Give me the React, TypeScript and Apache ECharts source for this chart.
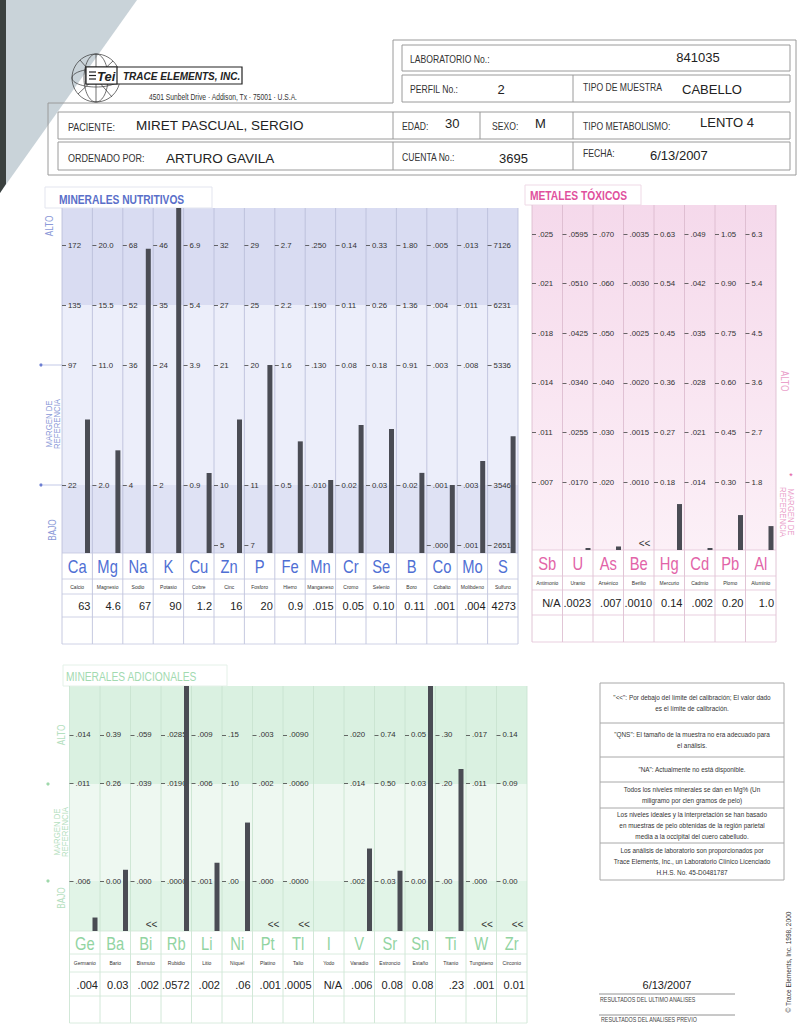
import React, { useEffect, useRef } from "react";
import * as echarts from "echarts";

const SANS = "'Liberation Sans',Arial,Helvetica,sans-serif";
const NARROW_SCALE = 0.82;

// ---------------- MINERALES NUTRITIVOS ----------------
const NUT_SYMBOLS = ["Ca", "Mg", "Na", "K", "Cu", "Zn", "P", "Fe", "Mn", "Cr", "Se", "B", "Co", "Mo", "S"];
const NUT_NAMES = ["Calcio", "Magnesio", "Sodio", "Potasio", "Cobre", "Cinc", "Fosforo", "Hierro", "Manganeso", "Cromo", "Selenio", "Boro", "Cobalto", "Molibdeno", "Sulfuro"];
const NUT_VALUES = [63, 4.6, 67, 90, 1.2, 16, 20, 0.9, 0.015, 0.05, 0.1, 0.11, 0.001, 0.004, 4273];
const NUT_VALUE_LABELS = ["63", "4.6", "67", "90", "1.2", "16", "20", "0.9", ".015", "0.05", "0.10", "0.11", ".001", ".004", "4273"];
const NUT_BELOW = [false, false, false, false, false, false, false, false, false, false, false, false, false, false, false];
const NUT_LOW = [22, 2.0, 4, 2, 0.9, 10, 11, 0.5, 0.01, 0.02, 0.03, 0.02, 0.001, 0.003, 3546];
const NUT_HIGH = [172, 20.0, 68, 46, 6.9, 32, 29, 2.7, 0.25, 0.14, 0.33, 1.8, 0.005, 0.013, 7126];
const NUT_TICK_LEVELS = [-1, 0, 2, 3, 4];
const NUT_TICK_LABELS = [
  ["", "22", "97", "135", "172"],
  ["", "2.0", "11.0", "15.5", "20.0"],
  ["", "4", "36", "52", "68"],
  ["", "2", "24", "35", "46"],
  ["", "0.9", "3.9", "5.4", "6.9"],
  ["5", "10", "21", "27", "32"],
  ["7", "11", "20", "25", "29"],
  ["", "0.5", "1.6", "2.2", "2.7"],
  ["", ".010", ".130", ".190", ".250"],
  ["", "0.02", "0.08", "0.11", "0.14"],
  ["", "0.03", "0.18", "0.26", "0.33"],
  ["", "0.02", "0.91", "1.36", "1.80"],
  [".000", ".001", ".003", ".004", ".005"],
  [".001", ".003", ".008", ".011", ".013"],
  ["2651", "3546", "5336", "6231", "7126"],
];

// ---------------- METALES TÓXICOS ----------------
const TOX_SYMBOLS = ["Sb", "U", "As", "Be", "Hg", "Cd", "Pb", "Al"];
const TOX_NAMES = ["Antimonio", "Uranio", "Arsénico", "Berilio", "Mercurio", "Cadmio", "Plomo", "Aluminio"];
const TOX_VALUES = [null, 0.0023, 0.007, 0.001, 0.14, 0.002, 0.2, 1.0];
const TOX_VALUE_LABELS = ["N/A", ".0023", ".007", ".0010", "0.14", ".002", "0.20", "1.0"];
const TOX_BELOW = [false, false, false, true, false, false, false, false];
const TOX_LOW = [0.007, 0.017, 0.02, 0.001, 0.18, 0.014, 0.3, 1.8];
const TOX_HIGH = [0.025, 0.0595, 0.07, 0.0035, 0.63, 0.049, 1.05, 6.3];
const TOX_TICK_LEVELS = [0, 1, 2, 3, 4, 5];
const TOX_TICK_LABELS = [
  [".007", ".011", ".014", ".018", ".021", ".025"],
  [".0170", ".0255", ".0340", ".0425", ".0510", ".0595"],
  [".020", ".030", ".040", ".050", ".060", ".070"],
  [".0010", ".0015", ".0020", ".0025", ".0030", ".0035"],
  ["0.18", "0.27", "0.36", "0.45", "0.54", "0.63"],
  [".014", ".021", ".028", ".035", ".042", ".049"],
  ["0.30", "0.45", "0.60", "0.75", "0.90", "1.05"],
  ["1.8", "2.7", "3.6", "4.5", "5.4", "6.3"],
];

// ---------------- MINERALES ADICIONALES ----------------
const ADD_SYMBOLS = ["Ge", "Ba", "Bi", "Rb", "Li", "Ni", "Pt", "Tl", "I", "V", "Sr", "Sn", "Ti", "W", "Zr"];
const ADD_NAMES = ["Germanio", "Bario", "Bismuto", "Rubidio", "Litio", "Níquel", "Platino", "Talio", "Yodo", "Vanadio", "Estroncio", "Estaño", "Titanio", "Tungsteno", "Circonio"];
const ADD_VALUES = [0.004, 0.03, 0.002, 0.0572, 0.002, 0.06, 0.001, 0.0005, null, 0.006, 0.08, 0.08, 0.23, 0.001, 0.01];
const ADD_VALUE_LABELS = [".004", "0.03", ".002", ".0572", ".002", ".06", ".001", ".0005", "N/A", ".006", "0.08", "0.08", ".23", ".001", "0.01"];
const ADD_BELOW = [false, false, true, false, false, false, true, true, false, false, false, false, false, true, true];
const ADD_LOW = [0.006, 0, 0, 0, 0.001, 0, 0, 0, null, 0.002, 0.03, 0, 0, 0, 0];
const ADD_HIGH = [0.014, 0.39, 0.059, 0.0285, 0.009, 0.15, 0.003, 0.009, null, 0.02, 0.74, 0.05, 0.3, 0.017, 0.14];
const ADD_TICK_LEVELS = [0, 2, 3];
const ADD_TICK_LABELS = [
  [".006", ".011", ".014"],
  ["0.00", "0.26", "0.39"],
  [".000", ".039", ".059"],
  [".0000", ".0190", ".0285"],
  [".001", ".006", ".009"],
  [".00", ".10", ".15"],
  [".000", ".002", ".003"],
  [".0000", ".0060", ".0090"],
  ["", "", ""],
  [".002", ".014", ".020"],
  ["0.03", "0.50", "0.74"],
  ["0.00", "0.03", "0.05"],
  [".00", ".20", ".30"],
  [".000", ".011", ".017"],
  ["0.00", "0.09", "0.14"],
];

const NOTES = [
  ['"<<": Por debajo del límite del calibración; El valor dado', "es el límite de calibración."],
  ['"QNS": El tamaño de la muestra no era adecuado para', "el análisis."],
  ['"NA": Actualmente no está disponible.'],
  ["Todos los niveles minerales se dan en Mg% (Un", "miligramo por cien gramos de pelo)"],
  ["Los niveles ideales y la interpretación se han basado", "en muestras de pelo obtenidas de la región parietal", "media a la occipital del cuero cabelludo."],
  ["Los análisis de laboratorio son proporcionados por", "Trace Elements, Inc., un Laboratorio Clínico Licenciado", "H.H.S. No. 45-D0481787"],
];

function buildOption() {
  const G: any[] = [];
  const text = (t: string, x: number, y: number, size: number, o: any = {}) => {
    const align = o.align || "left";
    const va = o.va || "middle";
    G.push({
      type: "text", x, y, rotation: o.rot || 0, scaleX: o.narrow ? NARROW_SCALE : 1, z: o.z ?? 20, silent: true,
      style: {
        text: t,
        font: `${o.italic ? "italic " : ""}${o.bold ? "bold " : ""}${size}px ${SANS}`,
        fill: o.color || "#333",
        align, textAlign: align, verticalAlign: va, textVerticalAlign: va,
        lineHeight: o.lh,
      },
    });
  };
  const rect = (x: number, y: number, w: number, h: number, fill: any, stroke?: string, lw = 1, z = -10) =>
    G.push({ type: "rect", z, silent: true, shape: { x, y, width: w, height: h }, style: { fill, stroke: stroke || null, lineWidth: lw } });
  const line = (x1: number, y1: number, x2: number, y2: number, stroke: string, lw = 1, z = -5) =>
    G.push({ type: "line", z, silent: true, shape: { x1, y1, x2, y2 }, style: { stroke, lineWidth: lw } });

  const grids: any[] = [], xAxes: any[] = [], yAxes: any[] = [], series: any[] = [];

  const panel = (L: any, D: any) => {
    const n = D.symbols.length;
    const right = L.x0 + n * L.colW;
    L.bands.forEach((b: any) => rect(L.x0, b[0], n * L.colW, b[1] - b[0], b[2], undefined, 1, -12));
    for (let i = 0; i <= n; i++) line(L.x0 + i * L.colW, L.top, L.x0 + i * L.colW, L.rows[L.rows.length - 1], L.sepColor, 0.8, -6);
    L.rows.forEach((y: number) => line(L.x0, y, right, y, L.tableColor, 0.8, -6));
    for (let i = 0; i < n; i++) {
      const left = L.x0 + i * L.colW;
      const g = grids.length;
      const low = D.low[i], high = D.high[i];
      const has = low != null && high != null;
      const step = has ? (high - low) / L.highLevel : 1;
      const base = has ? low : 0;
      const kMin = (L.y0 - L.bottom) / L.unit, kMax = (L.y0 - L.top) / L.unit;
      const cv: number[] = [], labs: string[] = [];
      L.tickLevels.forEach((k: number, j: number) => {
        const s = D.tickLabels[i][j];
        if (s) { cv.push(base + k * step); labs.push(s); }
      });
      grids.push({ left, top: L.top, width: L.colW, height: L.bottom - L.top, containLabel: false });
      xAxes.push({ type: "category", gridIndex: g, data: [D.symbols[i]], show: false });
      yAxes.push({
        type: "value", gridIndex: g, position: "left",
        min: base + kMin * step, max: base + kMax * step,
        show: cv.length > 0,
        axisLine: { show: false }, splitLine: { show: false },
        axisTick: { show: true, inside: true, length: 4, customValues: cv, lineStyle: { color: "#444", width: 0.8 } },
        axisLabel: {
          show: true, inside: true, margin: 6, customValues: cv,
          fontSize: 7.8, fontFamily: SANS, color: "#333",
          formatter: (val: number) => {
            let best = 0, bd = Infinity;
            cv.forEach((c, j) => { const d = Math.abs(c - val); if (d < bd) { bd = d; best = j; } });
            return labs[best] || "";
          },
        },
      });
      const v = D.values[i];
      series.push({
        type: "custom", coordinateSystem: "cartesian2d", xAxisIndex: g, yAxisIndex: g, z: 5,
        data: v == null ? [] : [[0, v, D.below[i] ? 1 : 0]],
        encode: { x: 0, y: 1 },
        renderItem: (params: any, api: any) => {
          const cs = params.coordSys;
          const bottom = cs.y + cs.height;
          if (api.value(2)) {
            return { type: "text", style: { text: "<<", x: cs.x + 21, y: bottom - 7, font: `10px ${SANS}`, fill: "#333", align: "center", textAlign: "center", verticalAlign: "middle", textVerticalAlign: "middle" } };
          }
          const p = api.coord([api.value(0), api.value(1)]);
          const yTop = Math.max(cs.y, Math.min(p[1], bottom - 2));
          return { type: "rect", shape: { x: cs.x + L.barOffset, y: yTop, width: 5, height: bottom - yTop }, style: { fill: "#4a4c54" } };
        },
      });
      const cx = left + L.colW / 2;
      text(D.symbols[i], cx, L.symY, 18, { align: "center", narrow: true, color: L.symColor });
      text(D.names[i], cx, L.nameY, 5, { align: "center", color: "#333" });
      text(D.valueLabels[i], left + L.colW - 2, L.valY, 11, { align: "right", color: "#222" });
    }
  };

  // ---------- page corner ----------
  G.push({ type: "polygon", z: -20, silent: true, shape: { points: [[0, 0], [137, 0], [0, 193]] }, style: { fill: "#c9d3d9" } });
  G.push({ type: "polygon", z: -19, silent: true, shape: { points: [[0, 0], [6, 0], [6, 184], [0, 193]] }, style: { fill: "#3a403f" } });

  // ---------- logo ----------
  const gs = { stroke: "#333", lineWidth: 0.7, fill: null };
  G.push({ type: "circle", z: 1, silent: true, shape: { cx: 96, cy: 78, r: 24 }, style: gs });
  G.push({ type: "ellipse", z: 1, silent: true, shape: { cx: 96, cy: 78, rx: 12, ry: 24 }, style: gs });
  G.push({ type: "ellipse", z: 1, silent: true, shape: { cx: 96, cy: 78, rx: 24, ry: 9 }, style: gs });
  G.push({ type: "line", z: 1, silent: true, shape: { x1: 80, y1: 60, x2: 112, y2: 97 }, style: gs });
  G.push({ type: "line", z: 1, silent: true, shape: { x1: 78, y1: 94, x2: 113, y2: 61 }, style: gs });
  G.push({ type: "line", z: 1, silent: true, shape: { x1: 96, y1: 54, x2: 96, y2: 102 }, style: gs });
  rect(86, 67, 156, 17, "#fff", "#222", 1.2, 2);
  rect(86, 67, 31, 17, "#fff", "#222", 1.2, 3);
  [72, 75.5, 79].forEach((y) => line(89, y, 96, y, "#222", 1.2, 4));
  text("Tei", 97, 76, 13, { bold: true, italic: true, color: "#222", z: 25 });
  text("TRACE ELEMENTS, INC.", 123, 76, 10, { bold: true, italic: true, color: "#222", z: 25 });
  text("4501 Sunbelt Drive · Addison, Tx · 75001 · U.S.A.", 149, 97, 8.2, { narrow: true, color: "#333" });

  // ---------- header frame ----------
  const hc = "#9a9a9a";
  G.push({ type: "polyline", z: -5, silent: true, shape: { points: [[393, 40], [796, 40], [796, 175], [48, 175], [48, 103], [393, 103], [393, 40]] }, style: { stroke: hc, lineWidth: 1, fill: null } });
  rect(402, 45, 388, 26, null, hc, 1, -4);
  rect(402, 75, 388, 27, null, hc, 1, -4);
  line(573, 75, 573, 102, hc, 1, -4);
  rect(58, 112, 732, 27, null, hc, 1, -4);
  line(393, 112, 393, 139, hc, 1, -4);
  line(480, 112, 480, 139, hc, 1, -4);
  line(573, 112, 573, 139, hc, 1, -4);
  rect(58, 142, 732, 28, null, hc, 1, -4);
  line(393, 142, 393, 170, hc, 1, -4);
  line(573, 142, 573, 170, hc, 1, -4);

  const lab = { narrow: true, color: "#333" };
  text("LABORATORIO No.:", 410, 59, 10.5, lab);
  text("841035", 698, 57, 13, { align: "center", color: "#222" });
  text("PERFIL No.:", 410, 89, 10.5, lab);
  text("2", 501, 89, 13, { align: "center", color: "#222" });
  text("TIPO DE MUESTRA", 583, 87, 10.5, lab);
  text("CABELLO", 682, 89, 13, { color: "#222" });
  text("EDAD:", 402, 126, 10.5, lab);
  text("30", 445, 123, 13, { color: "#222" });
  text("SEXO:", 492, 126, 10.5, lab);
  text("M", 535, 123, 13, { color: "#222" });
  text("TIPO METABOLISMO:", 583, 126, 10.5, lab);
  text("LENTO 4", 700, 122, 13, { color: "#222" });
  text("CUENTA No.:", 402, 157, 10.5, lab);
  text("3695", 499, 158, 13, { color: "#222" });
  text("FECHA:", 583, 153, 10.5, lab);
  text("6/13/2007", 650, 155, 13, { color: "#222" });
  text("PACIENTE:", 68, 127, 11, lab);
  text("MIRET PASCUAL, SERGIO", 136, 125, 13.5, { color: "#222" });
  text("ORDENADO POR:", 68, 158, 11, lab);
  text("ARTURO GAVILA", 166, 158, 13.5, { color: "#222" });

  // ---------- nutrient panel ----------
  const NUT_L = {
    x0: 62, colW: 30.4, top: 208, bottom: 553, y0: 485, unit: 60, highLevel: 4, tickLevels: NUT_TICK_LEVELS,
    rows: [553, 579, 594, 617, 644], symY: 566, nameY: 587, valY: 606, barOffset: 23,
    symColor: "#4f6fd4", sepColor: "#b7bbd8", tableColor: "#c3c7df",
    bands: [[208, 305, "#d9dcf2"], [305, 485, "#eceefa"], [485, 553, "#dfe2f4"]],
  };
  rect(45, 187, 167, 21, "#fff", "#e3e5ef", 1, -11);
  text("MINERALES NUTRITIVOS", 59, 200, 12.5, { bold: true, narrow: true, color: "#5a6fc9" });
  panel(NUT_L, { symbols: NUT_SYMBOLS, names: NUT_NAMES, values: NUT_VALUES, valueLabels: NUT_VALUE_LABELS, below: NUT_BELOW, low: NUT_LOW, high: NUT_HIGH, tickLabels: NUT_TICK_LABELS });
  text("ALTO", 50, 226, 10, { align: "center", rot: Math.PI / 2, narrow: true, color: "#8c9ad8" });
  text("MARGEN DE\nREFERENCIA", 53, 424, 9.5, { align: "center", rot: Math.PI / 2, narrow: true, color: "#8c9ad8", lh: 8 });
  text("BAJO", 53, 530, 10, { align: "center", rot: Math.PI / 2, narrow: true, color: "#8c9ad8" });
  [365, 485].forEach((y) => {
    G.push({ type: "circle", z: 2, silent: true, shape: { cx: 41, cy: y, r: 1.6 }, style: { fill: "#6c7ed2" } });
    line(43, y, 62, y, "#9aa4d6", 0.6, 2);
  });

  // ---------- toxic panel ----------
  const TOX_L = {
    x0: 532, colW: 30.5, top: 205, bottom: 550, y0: 482, unit: 49.6, highLevel: 5, tickLevels: TOX_TICK_LEVELS,
    rows: [550, 576, 590, 615, 642], symY: 563, nameY: 583, valY: 603, barOffset: 23,
    symColor: "#e264a8", sepColor: "#d9b7cb", tableColor: "#e3c3d7",
    bands: [[205, 550, new echarts.graphic.LinearGradient(0, 0, 0, 1, [{ offset: 0, color: "#f5d9eb" }, { offset: 1, color: "#fcf0f7" }])]],
  };
  rect(525, 185, 116, 20, "#fff", "#efd9e6", 1, -11);
  text("METALES TÓXICOS", 530, 196, 12.5, { bold: true, narrow: true, color: "#e0519d" });
  panel(TOX_L, { symbols: TOX_SYMBOLS, names: TOX_NAMES, values: TOX_VALUES, valueLabels: TOX_VALUE_LABELS, below: TOX_BELOW, low: TOX_LOW, high: TOX_HIGH, tickLabels: TOX_TICK_LABELS });
  text("ALTO", 784, 381, 10, { align: "center", rot: -Math.PI / 2, narrow: true, color: "#eaa2cb" });
  text("MARGEN DE\nREFERENCIA", 787, 512, 9.5, { align: "center", rot: -Math.PI / 2, narrow: true, color: "#eaa2cb", lh: 8 });
  text("*", 791, 476, 9, { align: "center", color: "#e0519d" });

  // ---------- additional panel ----------
  const ADD_L = {
    x0: 69.5, colW: 30.5, top: 686, bottom: 931, y0: 881, unit: 48.7, highLevel: 3, tickLevels: ADD_TICK_LEVELS,
    rows: [931, 954, 972, 996, 1023], symY: 943, nameY: 963, valY: 985, barOffset: 23,
    symColor: "#92d4a2", sepColor: "#c6e2ce", tableColor: "#d0e7d7",
    bands: [[686, 784, "#daf1e1"], [784, 881, "#eef8f1"], [881, 931, "#e1f4e7"]],
  };
  rect(63, 665, 164, 21, "#fff", "#e4f1e8", 1, -11);
  text("MINERALES ADICIONALES", 66, 677, 12.5, { narrow: true, color: "#a2dab0" });
  panel(ADD_L, { symbols: ADD_SYMBOLS, names: ADD_NAMES, values: ADD_VALUES, valueLabels: ADD_VALUE_LABELS, below: ADD_BELOW, low: ADD_LOW, high: ADD_HIGH, tickLabels: ADD_TICK_LABELS });
  text("ALTO", 62, 735, 10, { align: "center", rot: Math.PI / 2, narrow: true, color: "#b5e0c0" });
  text("MARGEN DE\nREFERENCIA", 61, 832, 9.5, { align: "center", rot: Math.PI / 2, narrow: true, color: "#b5e0c0", lh: 8 });
  text("BAJO", 62, 898, 10, { align: "center", rot: Math.PI / 2, narrow: true, color: "#b5e0c0" });
  [784, 881].forEach((y) => G.push({ type: "circle", z: 2, silent: true, shape: { cx: 48, cy: y, r: 1.6 }, style: { fill: "#9fd8ab" } }));

  // ---------- notes box ----------
  rect(600, 683, 184, 197, "#fff", "#a8a8a8", 1, -8);
  const sepY = [723, 757, 782, 808, 843];
  sepY.forEach((y) => line(600, y, 784, y, "#a8a8a8", 1, -7));
  const bounds = [683, ...sepY, 880];
  NOTES.forEach((ls, i) => {
    const mid = (bounds[i] + bounds[i + 1]) / 2;
    const lh = 11;
    ls.forEach((s, j) => text(s, 692, mid + (j - (ls.length - 1) / 2) * lh, 7.8, { align: "center", narrow: true, color: "#333" }));
  });

  // ---------- bottom right ----------
  text("6/13/2007", 667, 985, 11, { align: "center", color: "#222" });
  line(599, 994, 735, 994, "#777", 0.8, 0);
  text("RESULTADOS DEL ULTIMO ANALISES", 600, 999.5, 6.5, { narrow: true, color: "#444" });
  line(599, 1015, 735, 1015, "#777", 0.8, 0);
  text("RESULTADOS DEL ANALISES PREVIO", 601, 1020, 6.5, { narrow: true, color: "#444" });
  text("© Trace Elements, Inc. 1998, 2000", 788, 962, 8, { align: "center", rot: Math.PI / 2, narrow: true, color: "#333" });

  return {
    animation: false,
    backgroundColor: "#ffffff",
    grid: grids,
    xAxis: xAxes,
    yAxis: yAxes,
    series,
    graphic: { elements: G },
  };
}

export default function App() {
  const ref = useRef<HTMLDivElement>(null);
  useEffect(() => {
    if (!ref.current) return;
    const chart = echarts.init(ref.current, undefined, { renderer: "svg" });
    chart.setOption(buildOption() as any);
    return () => chart.dispose();
  }, []);
  return <div ref={ref} style={{ position: "absolute", left: 0, top: 0, width: 797, height: 1024, background: "#fff" }} />;
}
